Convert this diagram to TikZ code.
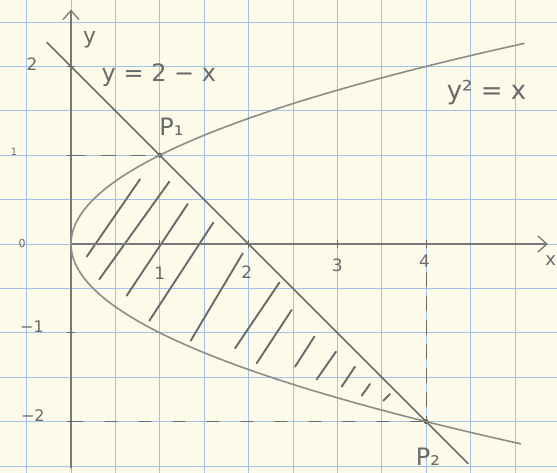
\documentclass[tikz,border=0pt]{standalone}
\usepackage{fontspec}
\setmainfont{DejaVu Sans}
\usetikzlibrary{arrows.meta}
\definecolor{paper}{HTML}{FCFBEA}
\definecolor{gridc}{HTML}{9FC2E8}
\definecolor{pencil}{HTML}{6A6A6A}
\definecolor{pencillight}{HTML}{8C8C8A}
\begin{document}
\begin{tikzpicture}[x=88.8pt,y=88.8pt,
  gridline/.style={draw=gridc, line width=0.8pt},
  axisline/.style={draw=pencil!90, line width=1.4pt, line cap=round},
  curve/.style={draw=pencillight, line width=1.6pt, line cap=round},
  straight/.style={draw=pencil, line width=1.6pt, line cap=round},
  hatch/.style={draw=pencil, line width=1.9pt, line cap=round},
  dashline/.style={draw=pencil, line width=1.3pt, line cap=round},
  tickmark/.style={draw=pencil, line width=1.2pt},
  lbl/.style={text=pencil, inner sep=0pt},
  pt/.style={circle, fill=pencil!80!black, inner sep=0pt, minimum size=5pt},
  arr/.style={-{Straight Barb[length=9pt,width=16pt,line width=1.3pt]}}]
% paper and grid
\fill[paper] (-0.7995,-2.5789) rectangle (5.473,2.7477);
\useasboundingbox (-0.7995,-2.5789) rectangle (5.473,2.7477);
\begin{scope}
\clip (-0.7995,-2.5789) rectangle (5.473,2.7477);
\draw[gridline] (-1,-3) grid[step=0.5] (6,3);
\end{scope}
% named points
\coordinate (O) at (0,0);
\coordinate (yb) at (0,-2.52);
\coordinate (yt) at (0,2.64);
\coordinate (xt) at (5.37,0);
\coordinate (y1) at (0,1);
\coordinate (ym2) at (0,-2);
\coordinate (x4) at (4,-0.32);
\coordinate (Ls) at (-0.27,2.27);
\coordinate (Le) at (4.47,-2.47);
\node[pt] (P1) at (1,1) {};
\node[pt] (P2) at (4,-2) {};
% hatching
\foreach \a/\b/\c/\d in {
 0.177/-0.143/0.777/0.729,
 0.319/-0.398/1.107/0.702,
 0.627/-0.582/1.314/0.450,
 0.882/-0.864/1.602/0.240,
 1.348/-1.089/1.934/-0.105,
 1.847/-1.175/2.346/-0.436,
 2.091/-1.343/2.485/-0.743,
 2.523/-1.382/2.740/-1.044,
 2.767/-1.524/2.984/-1.213,
 3.048/-1.607/3.198/-1.382,
 3.274/-1.708/3.367/-1.577,
 3.517/-1.765/3.592/-1.689}
 \draw[hatch] (\a,\b) -- (\c,\d);
% axes
\draw[axisline,arr] (yb) -- (yt);
\draw[axisline,arr] (O) -- (xt);
% ticks
\foreach \t in {1,2,3,4} \draw[tickmark] (\t,-0.05) -- (\t,0.05);
\foreach \t in {-2,-1,1,2} \draw[tickmark] (-0.05,\t) -- (0.05,\t);
% dashed guides
\draw[dashline, dash pattern=on 14pt off 16pt] (y1) -- (P1);
\draw[dashline, dash pattern=on 12pt off 22pt] (ym2) -- (P2);
\draw[dashline, dash pattern=on 14pt off 10pt] (x4) -- (P2);
% curves
\draw[curve] plot[domain=-2.25:2.26, samples=90, smooth] ({\x*\x},\x);
\draw[straight] (Ls) -- (P1) -- (P2) -- (Le);
% labels
\node[lbl, font=\fontsize{22}{22}\selectfont] (ylab) at (0.21,2.3) {y};
\node[lbl, font=\fontsize{18}{18}\selectfont, anchor=east] (xlab) at (5.465,-0.19) {x};
\node[lbl, font=\fontsize{17}{17}\selectfont] (t2) at (-0.44,2.02) {2};
\node[lbl, font=\fontsize{10}{10}\selectfont] (t1) at (-0.64,1.04) {1};
\node[lbl, font=\fontsize{11}{11}\selectfont] (t0) at (-0.55,0.0) {0};
\node[lbl, font=\fontsize{16}{16}\selectfont] (tm1) at (-0.44,-0.93) {−1};
\node[lbl, font=\fontsize{16}{16}\selectfont] (tm2) at (-0.43,-1.93) {−2};
\node[lbl, font=\fontsize{17}{17}\selectfont] (x1) at (1.0,-0.33) {1};
\node[lbl, font=\fontsize{17}{17}\selectfont] (x2) at (1.98,-0.32) {2};
\node[lbl, font=\fontsize{17}{17}\selectfont] (x3) at (3.0,-0.24) {3};
\node[lbl, font=\fontsize{17}{17}\selectfont] (x4l) at (3.98,-0.2) {4};
\node[lbl, font=\fontsize{24}{24}\selectfont] (eq1) at (0.99,1.9) {y = 2 − x};
\node[lbl, font=\fontsize{26}{26}\selectfont] (eq2) at (4.68,1.7) {y² = x};
\node[lbl, font=\fontsize{24}{24}\selectfont] (P1l) at (1.13,1.32) {P₁};
\node[lbl, font=\fontsize{24}{24}\selectfont] (P2l) at (4.02,-2.4) {P₂};
\end{tikzpicture}
\end{document}
